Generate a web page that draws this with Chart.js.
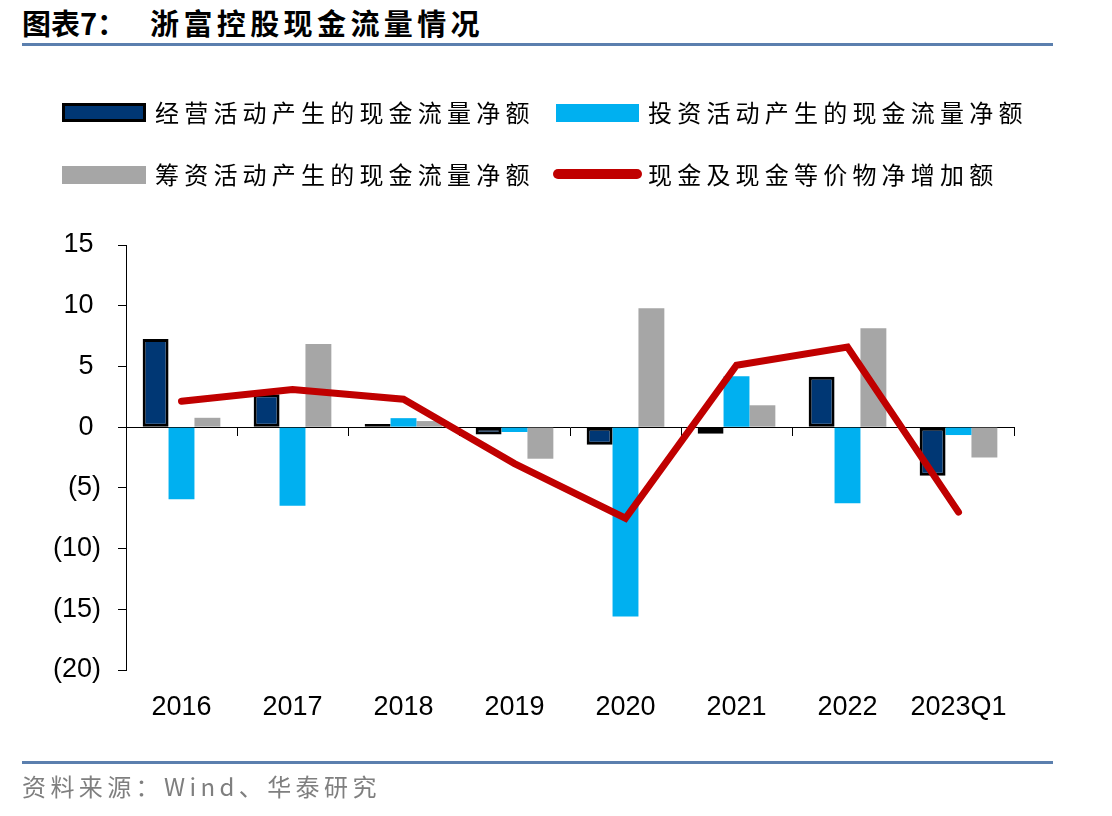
<!DOCTYPE html>
<html>
<head>
<meta charset="utf-8">
<script src="https://cdn.jsdelivr.net/npm/chart.js@4/dist/chart.umd.min.js"></script>
<style>
  html, body { margin: 0; padding: 0; background: #fff; }
  body { width: 1112px; height: 816px; position: relative; overflow: hidden; font-family: "Noto Sans CJK SC", "Liberation Sans", sans-serif; }
  #c { position: absolute; left: 0; top: 0; }
  .abs { position: absolute; white-space: nowrap; }
  .rule { position: absolute; left: 22px; width: 1031px; height: 3px; background: #5b7fae; }
  .title { font-weight: bold; font-size: 29px; color: #000; line-height: 32px; }
  .lg { font-size: 24px; letter-spacing: 5.2px; color: #000; line-height: 30px; }
  .src { font-size: 24px; letter-spacing: 4.4px; color: #7f7f7f; line-height: 30px; }
</style>
</head>
<body>
<div class="abs title" style="left:22px; top:6px;">图表7：</div>
<div class="abs title" style="left:150px; top:6px; letter-spacing:4.4px;">浙富控股现金流量情况</div>
<div class="rule" style="top:43px;"></div>

<canvas id="c" width="1112" height="816"></canvas>

<div class="abs" style="left:62px; top:103px; width:84px; height:19px; box-sizing:border-box; background:#003774; border:3px solid #000;"></div>
<div class="abs lg" id="l1" style="left:155px; top:97px;"></div>
<div class="abs" style="left:556px; top:104px; width:83px; height:18px; background:#00B0F0;"></div>
<div class="abs lg" id="l2" style="left:648px; top:97px;"></div>
<div class="abs" style="left:62px; top:166px; width:84px; height:18px; background:#A6A6A6;"></div>
<div class="abs lg" id="l3" style="left:155px; top:159px;"></div>
<div class="abs" style="left:553px; top:169px; width:89px; height:10px; border-radius:5px; background:#C00000;"></div>
<div class="abs lg" id="l4" style="left:648px; top:159px;"></div>

<div class="rule" style="top:761px;"></div>
<div class="abs src" style="left:22px; top:771px;">资料来源：Wind、华泰研究</div>

<script>
const categories = ['2016', '2017', '2018', '2019', '2020', '2021', '2022', '2023Q1'];
const seriesNames = ['经营活动产生的现金流量净额', '投资活动产生的现金流量净额', '筹资活动产生的现金流量净额', '现金及现金等价物净增加额'];
const operating = [7.25, 2.7, 0.25, -0.6, -1.45, -0.55, 4.15, -4.0];
const investing = [-5.93, -6.48, 0.74, -0.4, -15.6, 4.2, -6.27, -0.65];
const financing = [0.77, 6.84, 0.5, -2.6, 9.8, 1.8, 8.15, -2.5];
const netChange = [2.14, 3.1, 2.3, -3.0, -7.5, 5.1, 6.6, -7.0];
const yMin = -20, yMax = 15, yStep = 5;

['l1', 'l2', 'l3', 'l4'].forEach((id, i) => { document.getElementById(id).textContent = seriesNames[i]; });

const axisFont = { family: '"Liberation Sans", Arial, sans-serif', size: 27 };

new Chart(document.getElementById('c'), {
  type: 'bar',
  data: {
    labels: categories,
    datasets: [
      { type: 'line', label: seriesNames[3], data: netChange, borderColor: '#C00000', backgroundColor: '#C00000',
        borderWidth: 7, pointRadius: 0, borderCapStyle: 'round', borderJoinStyle: 'miter', tension: 0, order: 0 },
      { label: seriesNames[0], data: operating, backgroundColor: '#003774', borderColor: '#000', borderWidth: 3, borderSkipped: false, order: 1 },
      { label: seriesNames[1], data: investing, backgroundColor: '#00B0F0', borderWidth: 0, order: 1 },
      { label: seriesNames[2], data: financing, backgroundColor: '#A6A6A6', borderWidth: 0, order: 1 }
    ]
  },
  options: {
    responsive: false,
    animation: false,
    devicePixelRatio: 1,
    datasets: { bar: { categoryPercentage: 0.70, barPercentage: 1.0 } },
    layout: { padding: { left: 0, top: 245, right: 98, bottom: 96 } },
    plugins: { legend: { display: false }, tooltip: { enabled: false } },
    scales: {
      x: {
        type: 'category',
        position: { y: 0 },
        offset: true,
        ticks: { display: false },
        grid: { offset: true, drawOnChartArea: false, drawTicks: true, tickLength: 8, color: '#000', lineWidth: 1 },
        border: { display: true, color: '#000', width: 1 }
      },
      x2: {
        type: 'category',
        labels: categories,
        position: 'bottom',
        offset: true,
        grid: { display: false, drawTicks: false },
        border: { display: false },
        ticks: { font: axisFont, color: '#000', padding: 21, maxRotation: 0, autoSkip: false },
        afterFit: (s) => { s.height = 50; }
      },
      y: {
        min: yMin, max: yMax,
        ticks: { stepSize: yStep, font: axisFont, color: '#000', padding: 17,
          callback: (v) => v < 0 ? '(' + (-v) + ')' : v + ' ' },
        grid: { drawOnChartArea: false, drawTicks: true, tickLength: 8, color: '#000', lineWidth: 1 },
        border: { display: true, color: '#000', width: 1 },
        afterFit: (s) => { s.width = 126; }
      }
    }
  }
});
</script>
</body>
</html>
